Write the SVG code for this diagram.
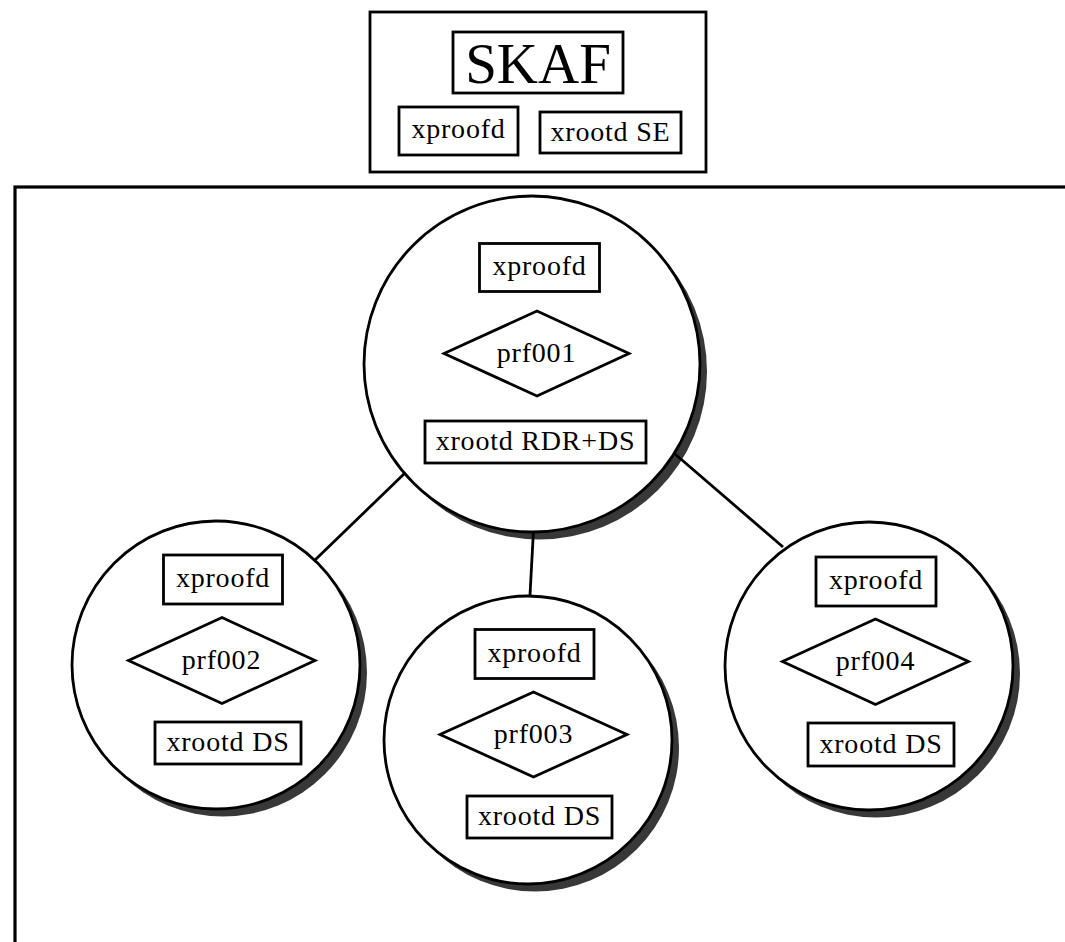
<svg xmlns="http://www.w3.org/2000/svg" width="1065" height="942" viewBox="0 0 1065 942">
  <style>
    .box { fill: #fff; stroke: #000; stroke-width: 2.8; }
    .frame { fill: none; stroke: #000; stroke-width: 3.2; }
    .host { fill: #fff; stroke: #000; stroke-width: 2.8; }
    .shadow { fill: #383838; stroke: none; }
    .link { stroke: #000; stroke-width: 2.8; fill: none; }
    text { font-family: "Liberation Serif", "Times New Roman", serif; font-size: 28px; fill: #000; text-anchor: middle; letter-spacing: 0.8px; }
    .big { font-size: 57px; letter-spacing: 0; }
  </style>

  <!-- SKAF site -->
  <g id="skaf">
    <rect class="box" x="370" y="12" width="336" height="160"/>
    <rect class="box" x="453" y="32" width="170" height="61"/>
    <text class="big" x="538" y="83">SKAF</text>
    <rect class="box" x="399" y="107" width="119" height="48"/>
    <text x="458.5" y="138">xproofd</text>
    <rect class="box" x="540" y="112" width="141" height="41"/>
    <text x="610.5" y="141">xrootd SE</text>
  </g>

  <!-- cluster frame -->
  <g id="cluster">
    <rect class="frame" x="15" y="187" width="1100" height="800"/>
  </g>

  <!-- drop shadows under the host circles -->
  <g id="shadows">
    <circle class="shadow" cx="539" cy="371.5" r="168"/>
    <circle class="shadow" cx="223" cy="672.5" r="144"/>
    <circle class="shadow" cx="535" cy="747.5" r="144"/>
    <circle class="shadow" cx="876" cy="673.5" r="144"/>
  </g>

  <!-- links from the master to the workers -->
  <g id="connectors">
    <line class="link" x1="405" y1="473" x2="315" y2="560"/>
    <line class="link" x1="533.5" y1="530" x2="530" y2="595"/>
    <line class="link" x1="675" y1="454" x2="783" y2="547"/>
  </g>

  <g id="prf001">
    <circle class="host" cx="532" cy="364" r="168"/>
    <rect class="box" x="479.5" y="243.5" width="120" height="48"/>
    <text x="539.5" y="275">xproofd</text>
    <polygon class="box" points="444,353.5 537,311 629,353.5 537,396"/>
    <text x="536.5" y="362">prf001</text>
    <rect class="box" x="425" y="421" width="221" height="42"/>
    <text x="535.5" y="450">xrootd RDR+DS</text>
  </g>

  <g id="prf002">
    <circle class="host" cx="216" cy="665" r="144"/>
    <rect class="box" x="163.5" y="555" width="119" height="49"/>
    <text x="223" y="587">xproofd</text>
    <polygon class="box" points="128.5,660.5 222,617.5 315,660.5 222,703.5"/>
    <text x="221.5" y="668.5">prf002</text>
    <rect class="box" x="155" y="722" width="146" height="42"/>
    <text x="228" y="751">xrootd DS</text>
  </g>

  <g id="prf003">
    <circle class="host" cx="528" cy="740" r="144"/>
    <rect class="box" x="475" y="629.5" width="119" height="49"/>
    <text x="534.5" y="661.5">xproofd</text>
    <polygon class="box" points="440,734.5 533.5,692 627,734.5 533.5,777"/>
    <text x="533.5" y="742.5">prf003</text>
    <rect class="box" x="467" y="796" width="145" height="42"/>
    <text x="539.5" y="825">xrootd DS</text>
  </g>

  <g id="prf004">
    <circle class="host" cx="869" cy="666" r="144"/>
    <rect class="box" x="816" y="557" width="120" height="49"/>
    <text x="876" y="589">xproofd</text>
    <polygon class="box" points="782.5,661.5 875.5,619 968.5,661.5 875.5,704.5"/>
    <text x="875.5" y="669.5">prf004</text>
    <rect class="box" x="808" y="723" width="146" height="43"/>
    <text x="881" y="752.5">xrootd DS</text>
  </g>
</svg>
